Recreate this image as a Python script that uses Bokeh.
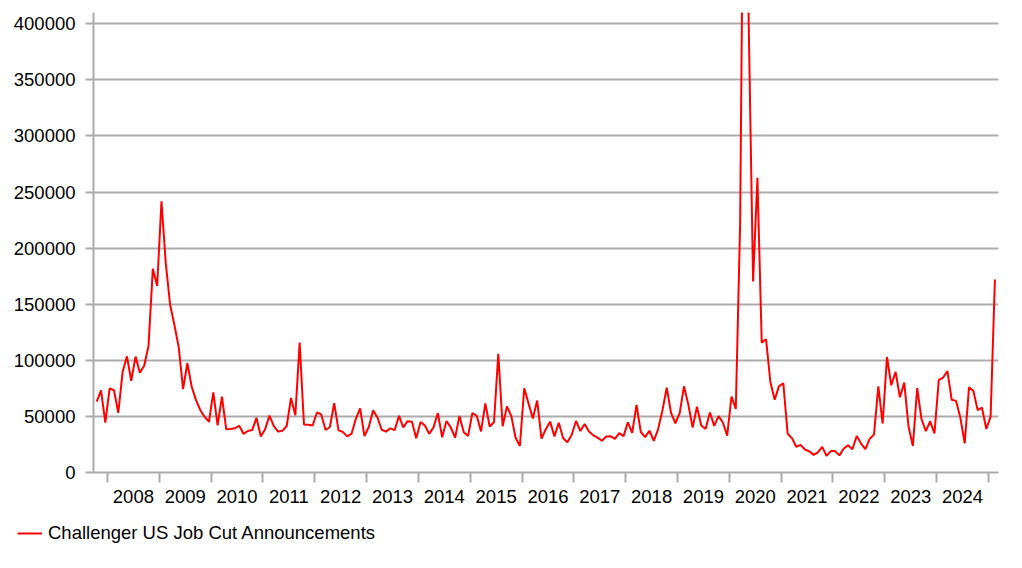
from bokeh.plotting import figure
from bokeh.layouts import column, row
from bokeh.models import FixedTicker, BasicTickFormatter, Range1d, Legend, LegendItem, ColumnDataSource
from bokeh.embed import file_html
from bokeh.resources import INLINE

# ---- data (monthly Challenger US job cut announcements) ----
v2007 = [63177, 73140, 44558]  # Oct-Dec
v2008 = [74986, 73291, 53191, 89521, 103522, 81755, 103312, 88846, 95094, 112884, 181671, 166348]
v2009 = [241749, 186350, 149500, 131500, 111500, 74393, 97373, 76456, 64500, 55500, 49500, 45094]
v2010 = [71482, 42090, 67611, 38500, 38700, 39358, 41676, 34500, 37000, 37800, 48711, 32004]
v2011 = [38519, 50702, 41528, 36490, 37135, 41432, 66414, 51114, 115730, 42759, 42474, 41856]
v2012 = [53486, 51728, 37880, 40559, 61887, 37551, 36174, 32239, 34392, 47724, 57081, 32556]
v2013 = [40430, 55356, 49255, 38121, 36398, 39372, 37701, 50462, 40289, 45730, 45314, 30623]
v2014 = [45107, 41835, 34399, 40298, 52961, 31434, 45930, 40110, 31017, 50462, 35940, 32640]
v2015 = [53041, 50579, 36594, 61582, 41034, 44842, 105696, 41186, 58877, 50504, 30953, 23622]
v2016 = [75114, 61599, 48207, 64141, 30157, 38536, 45346, 32188, 44324, 30740, 26936, 33627]
v2017 = [45934, 36957, 43310, 36602, 33092, 31105, 28307, 32010, 32346, 30038, 35038, 32423]
v2018 = [44653, 35369, 60357, 36081, 31517, 37202, 28128, 38472, 55285, 75644, 53073, 43884]
v2019 = [52988, 76835, 60587, 40023, 58577, 41977, 38845, 53480, 41557, 50275, 44569, 32843]
v2020 = [67735, 56660, 222288, 671129, 397016, 170219, 262649, 115762, 118804, 80666, 64797, 77030]
v2021 = [79552, 34531, 30603, 22913, 24586, 20476, 18942, 15723, 17895, 22822, 14875, 19052]
v2022 = [19064, 15245, 21387, 24286, 20712, 32517, 25810, 20783, 29989, 33843, 76835, 43651]
v2023 = [102943, 77770, 89703, 66995, 80089, 40709, 23697, 75151, 47457, 36836, 45510, 34817]
v2024 = [82307, 84638, 90309, 64789, 63816, 48786, 25885, 75891, 72821, 55597, 57727, 38792]
v2025 = [49795, 172017]  # Jan-Feb

series_name = "Challenger US Job Cut Announcements"
year_labels = list(range(2008, 2025))
y_ticks = [0, 50000, 100000, 150000, 200000, 250000, 300000, 350000, 400000]

# ---- build time axis (fractional years, mid-month) ----
blocks = [(2007, 10, v2007)]
for yr, vals in zip(range(2008, 2025), [v2008, v2009, v2010, v2011, v2012, v2013, v2014, v2015,
                                        v2016, v2017, v2018, v2019, v2020, v2021, v2022, v2023, v2024]):
    blocks.append((yr, 1, vals))
blocks.append((2025, 1, v2025))

xs, ys = [], []
for yr, m0, vals in blocks:
    for i, v in enumerate(vals):
        xs.append(yr + (m0 - 1 + i + 0.5) / 12.0)
        ys.append(v)

src = ColumnDataSource(dict(x=xs, y=ys))

FONT = "Liberation Sans"
GRAY = "#ABABAB"
RED = "#FF0000"

p = figure(width=1014, height=512, output_backend="svg", toolbar_location=None,
           x_range=Range1d(2007.73, 2025.194), y_range=Range1d(0, 410000),
           min_border_left=93, min_border_right=16, min_border_top=12, min_border_bottom=40)
p.outline_line_color = None
p.background_fill_color = "white"
p.border_fill_color = "white"

r = p.line("x", "y", source=src, line_color=RED, line_width=2)

# x axis: labels mid-year, tick marks at year boundaries (minor ticks)
xa = p.xaxis[0]
xa.ticker = FixedTicker(ticks=[y + 0.5 for y in year_labels], minor_ticks=list(range(2008, 2026)))
xa.major_label_overrides = {y + 0.5: str(y) for y in year_labels}
xa.major_tick_line_color = None
xa.major_tick_out = 0
xa.major_tick_in = 0
xa.minor_tick_out = 10
xa.minor_tick_in = 0
xa.minor_tick_line_color = GRAY
xa.minor_tick_line_width = 2
xa.axis_line_color = GRAY
xa.axis_line_width = 2
xa.major_label_standoff = 7
xa.major_label_text_font = FONT
xa.major_label_text_font_size = "18.5px"
xa.major_label_text_color = "black"

ya = p.yaxis[0]
ya.ticker = FixedTicker(ticks=y_ticks)
ya.formatter = BasicTickFormatter(use_scientific=False)
ya.major_tick_out = 8
ya.major_tick_in = 0
ya.minor_tick_line_color = None
ya.major_tick_line_color = GRAY
ya.major_tick_line_width = 2
ya.axis_line_color = GRAY
ya.axis_line_width = 2
ya.major_label_standoff = 10
ya.major_label_text_font = FONT
ya.major_label_text_font_size = "18.5px"
ya.major_label_text_color = "black"

p.xgrid.grid_line_color = None
p.ygrid.ticker = FixedTicker(ticks=y_ticks[1:])
p.ygrid.grid_line_color = GRAY
p.ygrid.grid_line_width = 2

# ---- legend strip below the chart ----
lg = figure(width=1014, height=48, output_backend="svg", toolbar_location=None,
            x_range=Range1d(0, 1), y_range=Range1d(0, 1),
            x_axis_type=None, y_axis_type=None,
            min_border_left=0, min_border_right=0, min_border_top=0, min_border_bottom=0)
lg.outline_line_color = None
lg.xgrid.visible = False
lg.ygrid.visible = False
# same series, outside this strip's ranges: only its legend swatch shows
lr = lg.line("x", "y", source=src, line_color=RED, line_width=2)
legend = Legend(items=[LegendItem(label=series_name, renderers=[lr])],
                location=(17, 16), orientation="horizontal",
                padding=0, margin=0, spacing=0,
                border_line_alpha=0, background_fill_alpha=0,
                glyph_width=25, glyph_height=20, label_height=20, label_standoff=6,
                label_text_font=FONT, label_text_font_size="18.5px", label_text_color="black")
lg.add_layout(legend, "center")

layout = column(p, row(lg), spacing=0)
open("out.html", "w").write(file_html(layout, INLINE))
